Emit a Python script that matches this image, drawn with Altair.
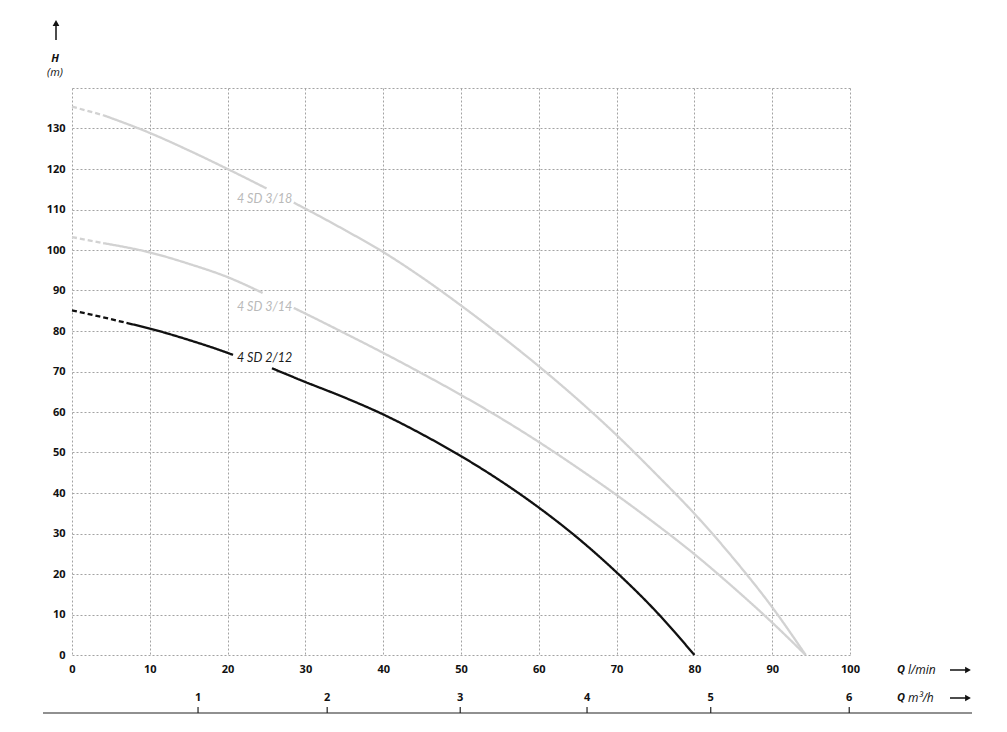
import altair as alt
import pandas as pd

# ---------------- data ----------------
curve_names = ["4 SD 2/12", "4 SD 3/14", "4 SD 3/18"]
curve_colors = ["#111111", "#d2d2d2", "#d2d2d2"]

# 4 SD 2/12  (Q l/min, H m)
q212_dash = [0, 3.5, 7]
h212_dash = [85.1, 83.6, 82.0]
q212_a = [7, 10, 15, 20, 20.7]
h212_a = [82.0, 80.6, 77.8, 74.6, 74.1]
q212_b = [25.7, 30, 35, 40, 45, 50, 55, 60, 65, 70, 75, 80]
h212_b = [70.8, 67.4, 63.6, 59.4, 54.5, 49.1, 43.1, 36.4, 28.9, 20.4, 10.9, 0]

# 4 SD 3/14
q314_dash = [0, 4]
h314_dash = [103.2, 101.7]
q314_a = [4, 10, 15, 20, 24.5]
h314_a = [101.7, 99.4, 96.6, 93.3, 89.4]
q314_b = [28.5, 30, 35, 40, 45, 50, 55, 60, 65, 70, 75, 80, 85, 90, 94.3]
h314_b = [85.7, 84.3, 79.5, 74.6, 69.5, 64.2, 58.6, 52.6, 46.2, 39.5, 32.4, 24.9, 16.7, 8.0, 0]

# 4 SD 3/18
q318_dash = [0, 4]
h318_dash = [135.4, 133.3]
q318_a = [4, 10, 15, 20, 25]
h318_a = [133.3, 128.9, 124.6, 120.0, 115.2]
q318_b = [28.5, 30, 35, 40, 45, 50, 55, 60, 65, 70, 75, 80, 85, 90, 94.3]
h318_b = [111.7, 110.2, 105.0, 99.5, 93.2, 86.3, 79.0, 71.3, 63.1, 54.3, 44.8, 34.9, 23.9, 11.8, 0]

# curve labels
label_texts = ["4 SD 2/12", "4 SD 3/14", "4 SD 3/18"]
label_q = [21.2, 21.2, 21.2]
label_h = [73.3, 85.9, 112.7]
label_colors = ["#1a1a1a", "#b9b9b9", "#b9b9b9"]

# axis ticks
x_ticks = list(range(0, 101, 10))
y_ticks = list(range(0, 141, 10))
m3h_labels = ["1", "2", "3", "4", "5", "6"]
m3h_pos_lmin = [16.2, 32.8, 49.9, 66.2, 82.1, 99.9]

# ---------------- build tables ----------------
rows = []
def add(curve, seg, style, qs, hs):
    for q, h in zip(qs, hs):
        rows.append({"curve": curve, "key": curve + seg, "style": style, "q": q, "h": h})

add("4 SD 2/12", "d", "dash", q212_dash, h212_dash)
add("4 SD 2/12", "a", "solid", q212_a, h212_a)
add("4 SD 2/12", "b", "solid", q212_b, h212_b)
add("4 SD 3/14", "d", "dash", q314_dash, h314_dash)
add("4 SD 3/14", "a", "solid", q314_a, h314_a)
add("4 SD 3/14", "b", "solid", q314_b, h314_b)
add("4 SD 3/18", "d", "dash", q318_dash, h318_dash)
add("4 SD 3/18", "a", "solid", q318_a, h318_a)
add("4 SD 3/18", "b", "solid", q318_b, h318_b)
df = pd.DataFrame(rows)

labels_df = pd.DataFrame({"text": label_texts, "q": label_q, "h": label_h, "c": label_colors})
m3h_df = pd.DataFrame({"lab": m3h_labels, "q": m3h_pos_lmin})
one = pd.DataFrame({"a": [0]})

W, H = 778, 567
FONT = "Open Sans"

xscale = alt.Scale(domain=[0, 100], nice=False, zero=False)
yscale = alt.Scale(domain=[0, 140], nice=False)

x_enc = alt.X("q:Q", scale=xscale,
              axis=alt.Axis(values=x_ticks, title=None, grid=True, ticks=False, domain=False,
                            labelPadding=8, labelFlush=False, format="d"))
y_enc = alt.Y("h:Q", scale=yscale,
              axis=alt.Axis(values=y_ticks, title=None, grid=True, ticks=False, domain=False,
                            labelPadding=7, labelExpr="datum.value >= 140 ? '' : datum.label"))

lines = alt.Chart(df).mark_line(strokeWidth=2.3, interpolate="monotone").encode(
    x=x_enc,
    y=y_enc,
    color=alt.Color("curve:N", scale=alt.Scale(domain=curve_names, range=curve_colors), legend=None),
    strokeDash=alt.StrokeDash("style:N", scale=alt.Scale(domain=["dash", "solid"], range=[[5, 3], [1, 0]]), legend=None),
    detail="key:N",
    order=alt.Order("q:Q"),
)

curve_labels = alt.Chart(labels_df).mark_text(
    font="Lato", fontStyle="italic", fontSize=12.5, align="left", baseline="middle"
).encode(
    x=alt.X("q:Q", scale=xscale),
    y=alt.Y("h:Q", scale=yscale),
    text="text:N",
    color=alt.Color("c:N", scale=None),
)

# second (m3/h) axis drawn below
base_rule = alt.Chart(one).mark_rule(color="#222", strokeWidth=1.2).encode(
    x=alt.value(-29), x2=alt.value(900), y=alt.value(625))
m3h_ticks = alt.Chart(m3h_df).mark_rule(color="#222", strokeWidth=1.2).encode(
    x=alt.X("q:Q", scale=xscale), y=alt.value(619), y2=alt.value(625))
m3h_text = alt.Chart(m3h_df).mark_text(font=FONT, fontWeight="bold", fontSize=11, color="#111",
                                       baseline="middle").encode(
    x=alt.X("q:Q", scale=xscale), y=alt.value(610), text="lab:N")

def txt(t, x, y, style="italic", weight="normal", size=11, align="left"):
    return alt.Chart(one).mark_text(text=t, font=FONT, fontStyle=style, fontWeight=weight,
                                    fontSize=size, align=align, baseline="middle", color="#111").encode(
        x=alt.value(x), y=alt.value(y))

def arrow_right(y):
    r = alt.Chart(one).mark_rule(color="#111", strokeWidth=1.5).encode(
        x=alt.value(878), x2=alt.value(895), y=alt.value(y))
    p = alt.Chart(one).mark_point(shape="triangle-right", filled=True, size=45, color="#111", opacity=1).encode(
        x=alt.value(896), y=alt.value(y))
    return r + p

up_rule = alt.Chart(one).mark_rule(color="#111", strokeWidth=1.5).encode(
    x=alt.value(-16), y=alt.value(-48), y2=alt.value(-63))
up_head = alt.Chart(one).mark_point(shape="triangle-up", filled=True, size=45, color="#111", opacity=1).encode(
    x=alt.value(-16), y=alt.value(-65))

annot = (
    txt("H", -17, -29, style="italic", weight="bold", align="center")
    + txt("(m)", -17, -15, align="center")
    + up_rule + up_head
    + txt("Q", 825, 582, weight="bold", size=11)
    + txt("l/min", 836, 582, size=12)
    + txt("Q", 825, 610, weight="bold", size=11)
    + txt("m³/h", 836, 610, size=12)
    + arrow_right(582) + arrow_right(610)
)

chart = alt.layer(lines, curve_labels, base_rule, m3h_ticks, m3h_text, annot).properties(
    width=W, height=H,
    autosize=alt.AutoSizeParams(type="none"),
    padding={"left": 64, "top": 80, "right": 149, "bottom": 68},
    background="white",
).configure_view(stroke=None).configure_axis(
    gridColor="#a3a3a3", gridDash=[2, 2], gridWidth=1,
    labelFont=FONT, labelFontWeight="bold", labelFontSize=11, labelColor="#111",
)

chart.save("out.html", embed_options={"renderer": "svg", "actions": False})
